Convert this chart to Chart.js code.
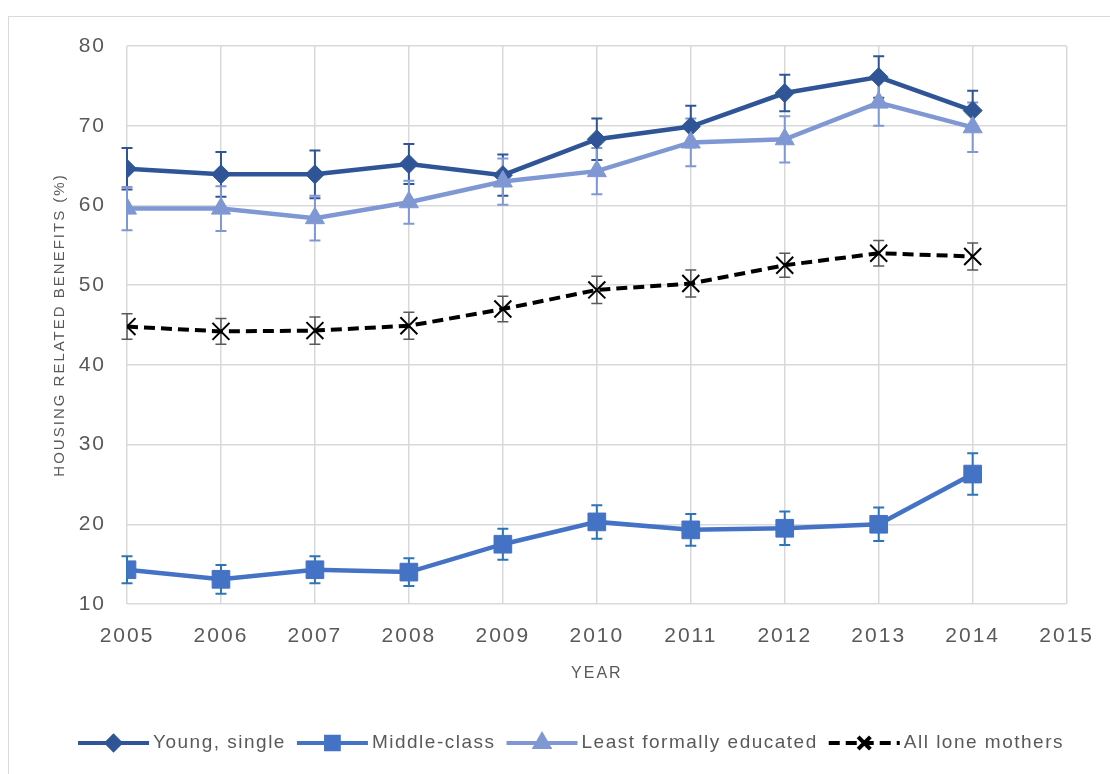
<!DOCTYPE html>
<html>
<head>
<meta charset="utf-8">
<script src="https://cdn.jsdelivr.net/npm/chart.js@4/dist/chart.umd.min.js"></script>
<style>
  html, body { margin: 0; padding: 0; background: #fff; }
  #wrap { position: relative; width: 1110px; height: 774px; overflow: hidden; }
  #frame { position: absolute; left: 8px; top: 16px; width: 1200px; height: 900px;
           border: 1.5px solid #d9d9d9; box-sizing: border-box; }
  canvas { position: absolute; left: 0; top: 0; }
</style>
</head>
<body>
<div id="wrap">
  <div id="frame"></div>
  <canvas id="chart" width="1110" height="774"></canvas>
</div>
<script>
// Data
const years = [2005, 2006, 2007, 2008, 2009, 2010, 2011, 2012, 2013, 2014];

const youngSingle    = [64.6, 63.9, 63.9, 65.2, 63.8, 68.3, 69.9, 74.1, 76.1, 71.9];
const youngSingleErr = [2.6, 2.8, 3.0, 2.5, 2.6, 2.6, 2.6, 2.3, 2.6, 2.5];

const middleClass    = [14.3, 13.1, 14.3, 14.0, 17.5, 20.3, 19.3, 19.5, 20.0, 26.3];
const middleClassErr = [1.7, 1.8, 1.7, 1.75, 1.95, 2.1, 2.0, 2.1, 2.1, 2.6];

const leastEducated    = [59.6, 59.6, 58.4, 60.4, 63.0, 64.3, 67.9, 68.3, 72.9, 69.8];
const leastEducatedErr = [2.7, 2.8, 2.8, 2.7, 2.9, 2.9, 3.0, 2.9, 2.9, 3.1];

const allMothers    = [44.8, 44.2, 44.3, 44.9, 47.0, 49.4, 50.2, 52.5, 54.0, 53.6];
const allMothersErr = [1.6, 1.6, 1.7, 1.7, 1.6, 1.7, 1.7, 1.5, 1.6, 1.7];

const seriesNames = ['Young, single', 'Middle-class', 'Least formally educated', 'All lone mothers'];

function pts(vals) {
    return vals.map(function(v, i) { return { x: years[i], y: v }; });
}

const TXT = '#595959';
const FONT = '"Liberation Sans", Arial, sans-serif';

// error bars, drawn under the lines and markers
const errorBars = {
    id: 'errorBars',
    beforeDatasetsDraw(chart) {
        const ctx = chart.ctx;
        const xs = chart.scales.x, ys = chart.scales.y;
        chart.data.datasets.forEach(function(ds) {
            if (!ds.err) return;
            ctx.save();
            ctx.strokeStyle = ds.errColor;
            ctx.lineWidth = ds.errWidth;
            ctx.setLineDash([]);
            for (let i = 0; i < ds.data.length; i++) {
                let x = xs.getPixelForValue(ds.data[i].x);
                let y1 = ys.getPixelForValue(ds.data[i].y + ds.err[i]);
                let y2 = ys.getPixelForValue(ds.data[i].y - ds.err[i]);
                ctx.beginPath();
                ctx.moveTo(x, y1); ctx.lineTo(x, y2);
                ctx.moveTo(x - 5.5, y1); ctx.lineTo(x + 5.5, y1);
                ctx.moveTo(x - 5.5, y2); ctx.lineTo(x + 5.5, y2);
                ctx.stroke();
            }
            ctx.restore();
        });
    }
};

// Excel-like legend: line with marker in the middle, then text
const bottomLegend = {
    id: 'bottomLegend',
    afterDraw(chart) {
        const ctx = chart.ctx;
        const y = 743;
        const lineLen = 71, gapText = 4, gapItem = 11;
        ctx.save();
        ctx.font = '19px ' + FONT;
        ctx.letterSpacing = '1.5px';
        let items = chart.data.datasets.map(function(ds) {
            return { ds: ds, w: ctx.measureText(ds.label).width };
        });
        let total = 0;
        items.forEach(function(it) { total += lineLen + gapText + it.w; });
        total += gapItem * (items.length - 1);
        let x = 571 - total / 2;
        items.forEach(function(it) {
            let ds = it.ds;
            ctx.strokeStyle = ds.borderColor;
            ctx.lineWidth = 4;
            ctx.setLineDash(ds.borderDash || []);
            ctx.beginPath();
            ctx.moveTo(x, y); ctx.lineTo(x + lineLen, y);
            ctx.stroke();
            ctx.setLineDash([]);
            ctx.fillStyle = ds.pointBackgroundColor;
            ctx.strokeStyle = ds.pointBorderColor;
            Chart.helpers.drawPoint(ctx, {
                pointStyle: ds.pointStyle, radius: ds.pointRadius * 0.72,
                rotation: 0, borderWidth: ds.pointBorderWidth
            }, x + lineLen / 2, y);
            ctx.fillStyle = TXT;
            ctx.textBaseline = 'middle';
            ctx.textAlign = 'left';
            ctx.fillText(ds.label, x + lineLen + gapText, y);
            x += lineLen + gapText + it.w + gapItem;
        });
        ctx.restore();
    }
};

const spacing = {
    id: 'spacing',
    beforeDraw(chart) { chart.ctx.letterSpacing = '2px'; }
};

new Chart(document.getElementById('chart'), {
    type: 'line',
    data: {
        datasets: [
            {
                label: seriesNames[0], data: pts(youngSingle), err: youngSingleErr,
                errColor: '#2F5597', errWidth: 2,
                borderColor: '#2F5597', borderWidth: 4.5,
                pointStyle: 'rectRot', pointRadius: 9.5,
                pointBackgroundColor: '#2F5597', pointBorderColor: '#2F5597', pointBorderWidth: 1,
                order: 4
            },
            {
                label: seriesNames[1], data: pts(middleClass), err: middleClassErr,
                errColor: '#2E75B6', errWidth: 2,
                borderColor: '#4472C4', borderWidth: 4.5,
                pointStyle: 'rect', pointRadius: 12.5,
                pointBackgroundColor: '#4472C4', pointBorderColor: '#4472C4', pointBorderWidth: 1,
                order: 3
            },
            {
                label: seriesNames[2], data: pts(leastEducated), err: leastEducatedErr,
                errColor: '#7F98D3', errWidth: 2,
                borderColor: '#7F98D3', borderWidth: 4.5,
                pointStyle: 'triangle', pointRadius: 11,
                pointBackgroundColor: '#7F98D3', pointBorderColor: '#7F98D3', pointBorderWidth: 1,
                order: 2
            },
            {
                label: seriesNames[3], data: pts(allMothers), err: allMothersErr,
                errColor: '#595959', errWidth: 1.5,
                borderColor: '#000000', borderWidth: 4, borderDash: [11, 6],
                pointStyle: 'crossRot', pointRadius: 12,
                pointBackgroundColor: '#000000', pointBorderColor: '#000000', pointBorderWidth: 2,
                order: 1
            }
        ]
    },
    options: {
        responsive: false,
        animation: false,
        layout: { padding: { left: 0, top: 46, right: 40, bottom: 0 } },
        plugins: {
            legend: { display: false },
            tooltip: { enabled: false }
        },
        elements: { line: { tension: 0 } },
        scales: {
            x: {
                type: 'linear', min: 2005, max: 2015,
                afterFit: function(s) { s.height = 170; },
                grid: { color: '#d9d9d9', lineWidth: 1.5, drawTicks: false },
                border: { display: false },
                ticks: {
                    stepSize: 1, padding: 20, color: TXT,
                    font: { family: FONT, size: 21 },
                    callback: function(v) { return String(v); }
                },
                title: {
                    display: true, text: 'YEAR', color: TXT,
                    font: { family: FONT, size: 16 },
                    padding: { top: 0, bottom: 91 }
                }
            },
            y: {
                min: 10, max: 80,
                afterFit: function(s) { s.width = 127; },
                grid: { color: '#d9d9d9', lineWidth: 1.5, drawTicks: false },
                border: { display: false },
                ticks: {
                    stepSize: 10, padding: 21, color: TXT,
                    font: { family: FONT, size: 21 }
                },
                title: {
                    display: true, text: 'HOUSING RELATED BENEFITS (%)', color: TXT,
                    font: { family: FONT, size: 15 },
                    padding: { top: 51, bottom: 0 }
                }
            }
        }
    },
    plugins: [spacing, errorBars, bottomLegend]
});
</script>
</body>
</html>
